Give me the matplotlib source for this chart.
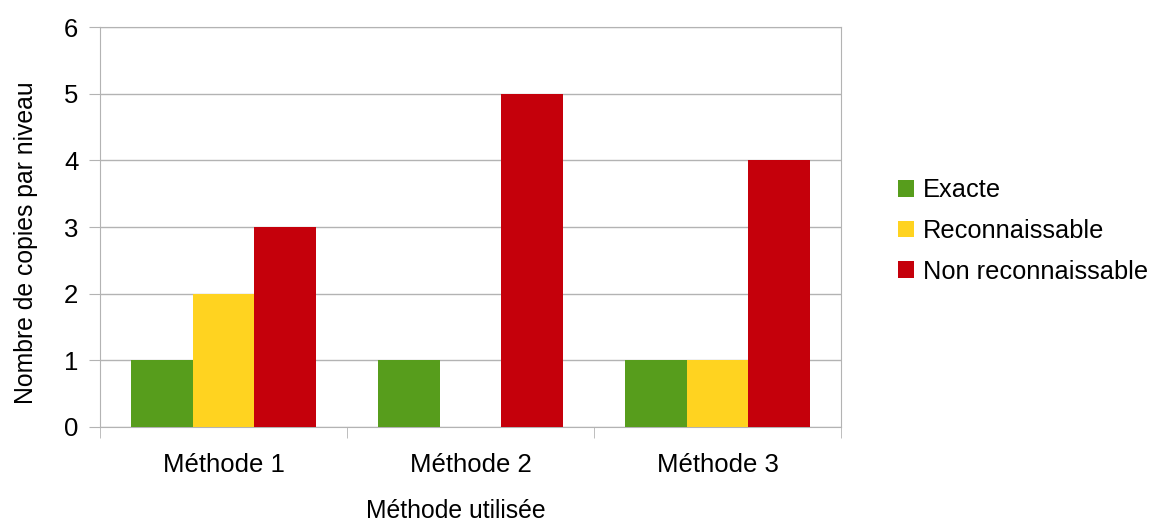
import matplotlib
matplotlib.use("Agg")
import matplotlib.pyplot as plt
import numpy as np

categories = ["Méthode 1", "Méthode 2", "Méthode 3"]
series_names = ["Exacte", "Reconnaissable", "Non reconnaissable"]
exacte = [1, 1, 1]
reconnaissable = [2, 0, 1]
non_reconnaissable = [3, 5, 4]
colors = ["#579D1C", "#FFD320", "#C5000B"]

plt.rcParams['font.family'] = ['Liberation Sans', 'DejaVu Sans']

fig = plt.figure(figsize=(11.52, 5.24), dpi=100)
ax = fig.add_axes([100/1152, 1-427/524, (841-100)/1152, 400/524])

x = np.arange(len(categories))
w = 0.25
for i, (vals, name, c) in enumerate(zip([exacte, reconnaissable, non_reconnaissable], series_names, colors)):
    ax.bar(x + (i-1)*w, vals, width=w, color=c, label=name, zorder=3)

ax.set_xlim(-0.5, 2.5)
ax.set_ylim(0, 6)
ax.set_yticks(range(0, 7))
ax.grid(axis='y', color='#b3b3b3', linewidth=1, zorder=0)
for s in ax.spines.values():
    s.set_color('#b3b3b3')
ax.set_xticks(x)
ax.set_xticklabels(categories)
ax.set_xticks([-0.5, 0.5, 1.5, 2.5], minor=True)
ax.tick_params(axis='x', which='major', length=0, labelsize=18.5, pad=19)
ax.tick_params(axis='x', which='minor', length=8, color='#b3b3b3')
ax.tick_params(axis='y', length=8, color='#b3b3b3', labelsize=18.5, pad=7.5)
ax.set_xlabel("Méthode utilisée", fontsize=17.8, labelpad=15.5)
ax.set_ylabel("Nombre de copies par niveau", fontsize=17.8, labelpad=19)
ax.xaxis.label.set_x(0.48)
ax.yaxis.label.set_y(0.46)

leg = ax.legend(loc='center left', bbox_to_anchor=(1.046, 0.49), frameon=False,
                fontsize=18.3, handlelength=0.63, handleheight=0.63, handletextpad=0.36,
                labelspacing=0.65)

fig.savefig("out.png", dpi=100)
